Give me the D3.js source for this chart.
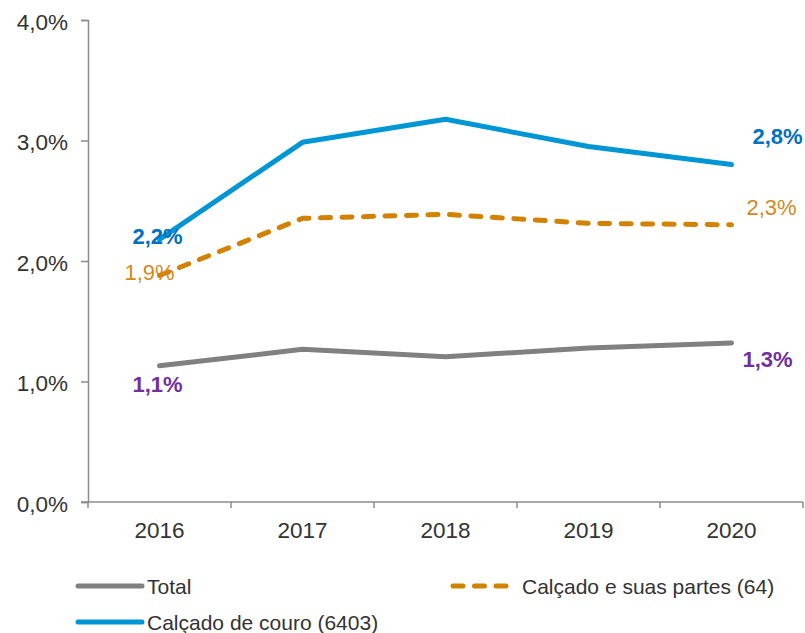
<!DOCTYPE html>
<html>
<head>
<meta charset="utf-8">
<script src="https://cdn.jsdelivr.net/npm/d3@7"></script>
<style>
  body { margin: 0; background: #fff; }
  svg { display: block; font-family: "Liberation Sans", Arial, Helvetica, sans-serif; }
</style>
</head>
<body>
<div id="chart"></div>
<script>
// values in % of total
const years = ['2016', '2017', '2018', '2019', '2020'];
const total = [1.13, 1.267, 1.206, 1.278, 1.32];
const partes = [1.88, 2.354, 2.387, 2.313, 2.30];
const couro = [2.18, 2.985, 3.176, 2.95, 2.80];
const yTicks = [0, 1, 2, 3, 4];
const seriesNames = ['Total', 'Calçado e suas partes (64)', 'Calçado de couro (6403)'];

const width = 805, height = 633;
const margin = { top: 20, right: 2, bottom: 131, left: 88 };

const ptBR = d3.formatLocale({ decimal: ',', thousands: '.', grouping: [3], currency: ['R$', ''] });
const fmt = v => ptBR.format('.1f')(v) + '%';

const series = [
    { name: seriesNames[0], values: total, line: '#808080', label: '#7030a0', bold: true, dash: null,
      first: [-2, 26], last: [36, 24], legend: [78, 586] },
    { name: seriesNames[1], values: partes, line: '#d28200', label: '#d4891c', bold: false, dash: '10 11.5',
      first: [-10, 5], last: [40, -10], legend: [453, 586] },
    { name: seriesNames[2], values: couro, line: '#0096d6', label: '#0070c0', bold: true, dash: null,
      first: [-2, 5], last: [46, -21], legend: [78, 622] }
];

const svg = d3.select('#chart').append('svg')
    .attr('width', width)
    .attr('height', height);

const x = d3.scaleBand()
    .domain(years)
    .range([margin.left, width - margin.right]);

const y = d3.scaleLinear()
    .domain([0, 4])
    .range([height - margin.bottom, margin.top]);

const xc = d => x(d) + x.bandwidth() / 2;

// y axis
const yAxis = svg.append('g')
    .attr('transform', `translate(${margin.left},0)`)
    .call(d3.axisLeft(y).tickValues(yTicks).tickSize(7).tickPadding(13).tickFormat(fmt));

// x axis with ticks on category boundaries
const xAxis = svg.append('g')
    .attr('transform', `translate(0,${y(0)})`)
    .call(d3.axisBottom(x).tickSize(0).tickPadding(20));
xAxis.selectAll('.tick-edge')
    .data(years.concat(['end']))
    .enter()
    .append('line')
    .attr('class', 'tick-edge')
    .attr('x1', d => d === 'end' ? x.range()[1] : x(d))
    .attr('x2', d => d === 'end' ? x.range()[1] : x(d))
    .attr('y1', 0)
    .attr('y2', 6);

[yAxis, xAxis].forEach(a => {
    a.select('.domain').attr('stroke', '#8c8c8c').attr('stroke-width', 1.5);
    a.selectAll('line').attr('stroke', '#8c8c8c').attr('stroke-width', 1.5);
    a.selectAll('text').attr('fill', '#333').style('font-size', '22.5px');
});
xAxis.select('.domain').attr('d', `M${margin.left - 7},0H${x.range()[1]}`);
yAxis.selectAll('text').attr('dy', '0.42em');

// lines
const line = d3.line()
    .x((v, i) => xc(years[i]))
    .y(v => y(v));

svg.append('g')
    .selectAll('path')
    .data(series)
    .enter()
    .append('path')
    .attr('d', d => line(d.values))
    .attr('fill', 'none')
    .attr('stroke', d => d.line)
    .attr('stroke-width', 5)
    .attr('stroke-linecap', 'round')
    .attr('stroke-linejoin', 'round')
    .attr('stroke-dasharray', d => d.dash);

// labels at first and last year
const labels = [];
series.forEach(s => {
    const n = s.values.length - 1;
    labels.push({ s: s, i: 0, off: s.first });
    labels.push({ s: s, i: n, off: s.last });
});

svg.append('g')
    .selectAll('text')
    .data(labels)
    .enter()
    .append('text')
    .attr('x', d => xc(years[d.i]) + d.off[0])
    .attr('y', d => y(d.s.values[d.i]) + d.off[1])
    .attr('text-anchor', 'middle')
    .attr('fill', d => d.s.label)
    .style('font-size', '22px')
    .style('font-weight', d => d.s.bold ? 'bold' : 'normal')
    .text(d => fmt(d.s.values[d.i]));

// legend
const legend = svg.append('g')
    .selectAll('g')
    .data(series)
    .enter()
    .append('g')
    .attr('transform', d => `translate(${d.legend[0]},${d.legend[1]})`);

legend.append('line')
    .attr('x1', 0)
    .attr('x2', d => d.dash ? 58 : 64)
    .attr('stroke', d => d.line)
    .attr('stroke-width', 5)
    .attr('stroke-linecap', 'round')
    .attr('stroke-dasharray', d => d.dash ? '10 11.5' : null);

legend.append('text')
    .attr('x', 69)
    .attr('dy', '0.36em')
    .attr('fill', '#333')
    .style('font-size', '21px')
    .text(d => d.name);
</script>
</body>
</html>
